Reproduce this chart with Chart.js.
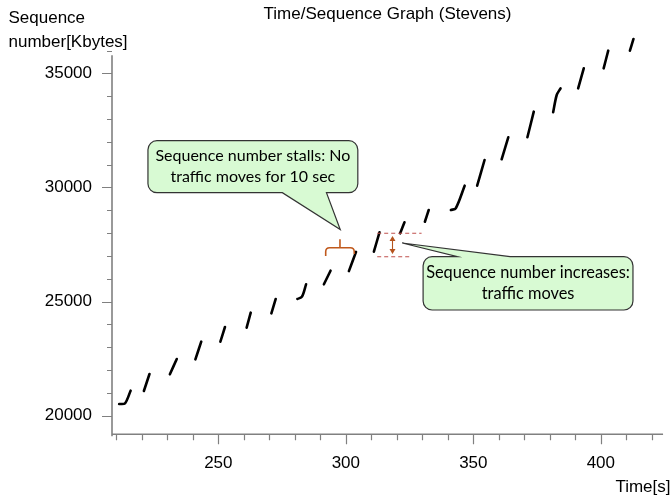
<!DOCTYPE html>
<html>
<head>
<meta charset="utf-8">
<title>Time/Sequence Graph (Stevens)</title>
<script src="https://cdn.jsdelivr.net/npm/chart.js@4.4.1/dist/chart.umd.min.js"></script>
<style>
  html, body { margin: 0; padding: 0; background: #fff; }
  #wrap { position: relative; width: 671px; height: 497px; }
</style>
</head>
<body>
<div id="wrap"><canvas id="chart"></canvas></div>
<script>
// one short run per send burst (time in s, seq in Kbytes)
const burstTimes = [
  [211.1, 213.4, 215.6],
  [220.8, 223.0],
  [231.0, 233.7],
  [241.0, 243.3],
  [250.8, 252.6],
  [261.1, 262.7],
  [270.8, 272.5],
  [281.0, 282.8, 284.4],
  [291.4, 294.0],
  [301.2, 304.0],
  [311.0, 313.2],
  [321.3, 323.0],
  [331.0, 332.5],
  [341.2, 343.1, 346.6],
  [351.5, 354.4],
  [361.1, 363.7],
  [371.2, 373.7],
  [381.3, 382.7, 384.2],
  [391.1, 393.3],
  [401.1, 402.9],
  [411.4, 412.8]
];
const burstSeq = [
  [20513, 20543, 21096],
  [21082, 21827],
  [21814, 22485],
  [22472, 23243],
  [23243, 23887],
  [23856, 24514],
  [24487, 25114],
  [25114, 25215, 25758],
  [25758, 26354],
  [26337, 27180],
  [27187, 28037],
  [27993, 28475],
  [28500, 29014],
  [29014, 29089, 30079],
  [30079, 31205],
  [31236, 32200],
  [32200, 33322],
  [33295, 34053, 34347],
  [34347, 35223],
  [35223, 35995],
  [35995, 36508]
];
const yTickLabels = [20000, 25000, 30000, 35000];
const xTickLabels = [250, 300, 350, 400];

const titleText = 'Time/Sequence Graph (Stevens)';
const yTitle = ['Sequence', 'number[Kbytes]'];
const xTitle = 'Time[s]';
const stallNote = ['Sequence number stalls: No', 'traffic moves for 10 sec'];
const moveNote = ['Sequence number increases:', 'traffic moves'];

// flatten the bursts, with a null between them so the line breaks
const points = [];
burstTimes.forEach((ts, i) => {
  ts.forEach((t, j) => points.push({ x: t, y: burstSeq[i][j] }));
  points.push({ x: ts[ts.length - 1], y: null });
});

const FONT = '"Liberation Sans", Arial, sans-serif';
const NOTE_FONT = 'Lato, "Open Sans", sans-serif';
const AXIS = '#808080';

function calloutPath(ctx, l, t, r, b, rad, side, ba, bb, tip) {
  ctx.beginPath();
  ctx.moveTo(l + rad, t);
  if (side === 'top') { ctx.lineTo(ba, t); ctx.lineTo(tip[0], tip[1]); ctx.lineTo(bb, t); }
  ctx.lineTo(r - rad, t);
  ctx.arcTo(r, t, r, t + rad, rad);
  ctx.lineTo(r, b - rad);
  ctx.arcTo(r, b, r - rad, b, rad);
  if (side === 'bottom') { ctx.lineTo(bb, b); ctx.lineTo(tip[0], tip[1]); ctx.lineTo(ba, b); }
  ctx.lineTo(l + rad, b);
  ctx.arcTo(l, b, l, b - rad, rad);
  ctx.lineTo(l, t + rad);
  ctx.arcTo(l, t, l + rad, t, rad);
  ctx.closePath();
}

function drawCallout(chart, c) {
  const { ctx, scales: { x, y } } = chart;
  const l = x.getPixelForValue(c.t0), r = x.getPixelForValue(c.t1);
  const t = y.getPixelForValue(c.v0), b = y.getPixelForValue(c.v1);
  const ba = x.getPixelForValue(c.baseT[0]), bb = x.getPixelForValue(c.baseT[1]);
  const tip = [x.getPixelForValue(c.tip[0]), y.getPixelForValue(c.tip[1])];
  ctx.save();
  calloutPath(ctx, l, t, r, b, 9, c.side, ba, bb, tip);
  ctx.fillStyle = '#d8fad3';
  ctx.fill();
  ctx.strokeStyle = '#333';
  ctx.lineWidth = 1.2;
  ctx.stroke();
  // size the text so the first line fills the box like the reference
  ctx.font = '20px ' + NOTE_FONT;
  const size = 20 * c.textW / ctx.measureText(c.lines[0]).width;
  ctx.font = size.toFixed(2) + 'px ' + NOTE_FONT;
  ctx.fillStyle = '#000';
  ctx.textAlign = 'center';
  ctx.textBaseline = 'middle';
  const cx = (l + r) / 2, cy = (t + b) / 2;
  c.lines.forEach((s, i) => ctx.fillText(s, cx, cy + (i - (c.lines.length - 1) / 2) * 21));
  ctx.restore();
}

const decor = {
  id: 'decor',
  beforeDraw(chart) {
    const { ctx, width, height } = chart;
    ctx.save();
    ctx.fillStyle = '#fff';
    ctx.fillRect(0, 0, width, height);
    ctx.restore();
  },
  afterDatasetsDraw(chart) {
    const { ctx, scales: { x, y } } = chart;
    ctx.save();

    // axis lines and ticks
    ctx.strokeStyle = AXIS;
    ctx.lineWidth = 1.6;
    ctx.beginPath();
    ctx.moveTo(x.left, y.getPixelForValue(35800));
    ctx.lineTo(x.left, y.bottom + 2);
    ctx.moveTo(x.left, y.bottom);
    ctx.lineTo(x.right, y.bottom);
    ctx.stroke();
    ctx.lineWidth = 1.2;
    ctx.beginPath();
    y.ticks.forEach(tk => {
      const py = Math.round(y.getPixelForValue(tk.value)) + 0.5;
      const len = yTickLabels.includes(tk.value) ? 10 : 5;
      ctx.moveTo(x.left - len, py);
      ctx.lineTo(x.left, py);
    });
    x.ticks.forEach(tk => {
      const px = Math.round(x.getPixelForValue(tk.value)) + 0.5;
      const len = xTickLabels.includes(tk.value) ? 10 : 6;
      ctx.moveTo(px, y.bottom);
      ctx.lineTo(px, y.bottom + len);
    });
    ctx.stroke();

    // axis titles
    ctx.fillStyle = '#000';
    ctx.font = '17px ' + FONT;
    ctx.textBaseline = 'alphabetic';
    ctx.textAlign = 'left';
    ctx.fillText(yTitle[0], 8.5, 23);
    ctx.fillText(yTitle[1], 8.5, 47);
    ctx.textAlign = 'right';
    ctx.fillText(xTitle, 670.5, 492);

    // stall brace
    const bl = x.getPixelForValue(292.1), br = x.getPixelForValue(303.3);
    const bm = x.getPixelForValue(297.7);
    const bTop = y.getPixelForValue(27362), bEnd = y.getPixelForValue(26998);
    const bPeak = y.getPixelForValue(27730);
    ctx.strokeStyle = '#c0591c';
    ctx.lineWidth = 1.6;
    ctx.beginPath();
    ctx.moveTo(bl, bEnd);
    ctx.lineTo(bl, bTop + 4);
    ctx.quadraticCurveTo(bl, bTop, bl + 4, bTop);
    ctx.lineTo(br - 4, bTop);
    ctx.quadraticCurveTo(br, bTop, br, bTop + 4);
    ctx.lineTo(br, bEnd - 2);
    ctx.moveTo(bm, bTop);
    ctx.lineTo(bm, bPeak);
    ctx.stroke();

    // increase marker: dashed bounds and double arrow
    const dl = x.getPixelForValue(312.3);
    const dTop = y.getPixelForValue(27993), dBot = y.getPixelForValue(26967);
    ctx.strokeStyle = '#c0504d';
    ctx.lineWidth = 1.1;
    ctx.setLineDash([4, 3]);
    ctx.beginPath();
    ctx.moveTo(dl, dTop); ctx.lineTo(x.getPixelForValue(329.7), dTop);
    ctx.moveTo(dl, dBot); ctx.lineTo(x.getPixelForValue(325.8), dBot);
    ctx.stroke();
    ctx.setLineDash([]);
    const ax = x.getPixelForValue(318.3);
    const a0 = y.getPixelForValue(27875), a1 = y.getPixelForValue(27086);
    ctx.strokeStyle = '#b5541e';
    ctx.fillStyle = '#b5541e';
    ctx.beginPath();
    ctx.moveTo(ax, a0 + 3); ctx.lineTo(ax, a1 - 3);
    ctx.stroke();
    ctx.beginPath();
    ctx.moveTo(ax, a0); ctx.lineTo(ax - 3, a0 + 5); ctx.lineTo(ax + 3, a0 + 5); ctx.closePath();
    ctx.moveTo(ax, a1); ctx.lineTo(ax - 3, a1 - 5); ctx.lineTo(ax + 3, a1 - 5); ctx.closePath();
    ctx.fill();
    ctx.restore();

    drawCallout(chart, {
      t0: 222.4, t1: 304.7, v0: 32051, v1: 29772,
      side: 'bottom', baseT: [275.1, 292.4], tip: [297.8, 28160],
      lines: stallNote, textW: 195
    });
    drawCallout(chart, {
      t0: 330.3, t1: 412.6, v0: 26967, v1: 24632,
      side: 'top', baseT: [343.8, 364.4], tip: [322.1, 27568],
      lines: moveNote, textW: 204
    });
  }
};

new Chart(document.getElementById('chart'), {
  type: 'line',
  data: {
    datasets: [{
      data: points,
      borderColor: '#000',
      borderWidth: 2.6,
      borderCapStyle: 'round',
      borderJoinStyle: 'round',
      pointRadius: 0,
      tension: 0.3,
      spanGaps: false
    }]
  },
  options: {
    responsive: true,
    maintainAspectRatio: false,
    animation: false,
    layout: { padding: 0 },
    plugins: {
      legend: { display: false },
      tooltip: { enabled: false },
      title: {
        display: true,
        text: titleText,
        fullSize: false,
        color: '#000',
        font: { family: FONT, size: 17, weight: 'normal', lineHeight: 1.2 },
        padding: { top: 4.3, bottom: 9.9 }
      }
    },
    scales: {
      x: {
        type: 'linear',
        min: 208.3,
        max: 424.4,
        afterFit(scale) { scale.height = 62.7; },
        grid: { drawOnChartArea: false, drawTicks: false },
        border: { display: false },
        ticks: {
          stepSize: 10,
          includeBounds: false,
          autoSkip: false,
          maxRotation: 0,
          padding: 19,
          color: '#000',
          font: { family: FONT, size: 17 },
          callback: v => xTickLabels.includes(v) ? String(v) : ''
        }
      },
      y: {
        min: 19185,
        max: 36700,
        afterFit(scale) { scale.width = 112; },
        // a tick every 1000 Kbytes, label every 5000
        afterBuildTicks(scale) {
          const ticks = [];
          for (let v = 20000; v <= 36000; v += 1000) ticks.push({ value: v });
          scale.ticks = ticks;
        },
        grid: { drawOnChartArea: false, drawTicks: false },
        border: { display: false },
        ticks: {
          autoSkip: false,
          padding: 20,
          color: '#000',
          font: { family: FONT, size: 17 },
          callback: v => yTickLabels.includes(v) ? String(v) : ''
        }
      }
    }
  },
  plugins: [decor]
});
</script>
</body>
</html>
